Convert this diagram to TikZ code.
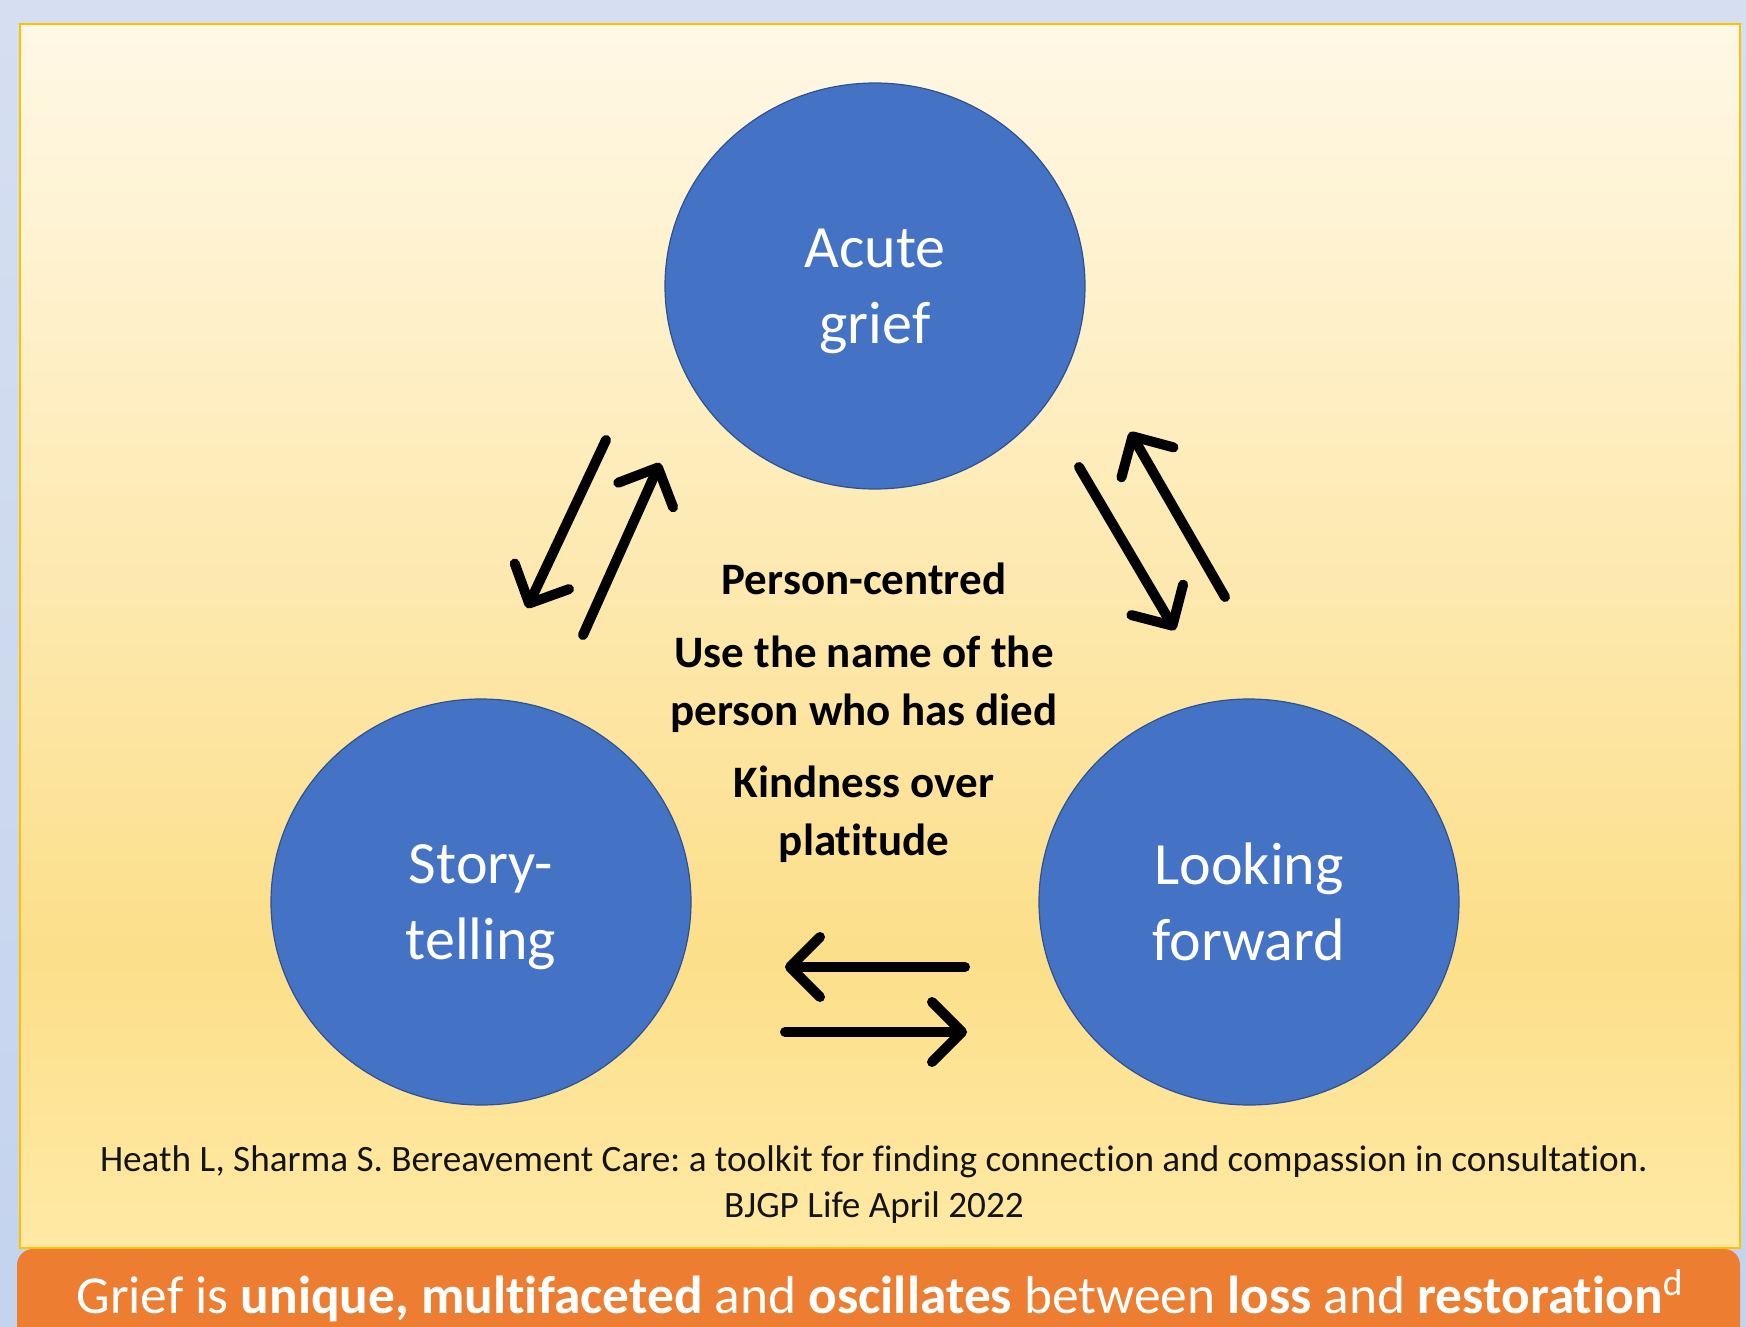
\documentclass[tikz,border=0pt]{standalone}
\usepackage{fontspec}
\setmainfont{Carlito}[Ligatures={NoCommon}]
\definecolor{gbBack}{HTML}{D6DFF1}
\definecolor{gbBackLow}{HTML}{C4D3EE}
\definecolor{gbPanelTop}{HTML}{FFF8E6}
\definecolor{gbPanelMid}{HTML}{FCDF8A}
\definecolor{gbPanelLow}{HTML}{FFE9A4}
\definecolor{gbGold}{HTML}{FFC000}
\definecolor{gbBlue}{HTML}{4472C4}
\definecolor{gbBlueEdge}{HTML}{2F528F}
\definecolor{gbOrange}{HTML}{ED7D31}
\definecolor{gbText}{HTML}{141414}
\usetikzlibrary{arrows.meta,shapes.geometric}
\pgfdeclareverticalshading{panelshade}{100bp}{color(0bp)=(gbPanelLow); color(25bp)=(gbPanelLow); color(37bp)=(gbPanelMid); color(75bp)=(gbPanelTop); color(100bp)=(gbPanelTop)}
\newcommand{\hl}[1]{\textbf{#1}}
\frenchspacing

\begin{document}
\begin{tikzpicture}[
  x=0.5pt, y=-0.5pt,
  stage/.style={ellipse, fill=gbBlue, draw=gbBlueEdge, line width=0.6pt,
    minimum width=210pt, minimum height=203pt, inner sep=0pt, text depth=0pt,
    text=white, align=center, font=\fontsize{30}{38}\selectfont},
  note/.style={align=center, text=black, font=\fontsize{22.5}{29}\selectfont\bfseries},
  cite/.style={align=center, text=gbText, font=\fontsize{18.6}{23}\selectfont},
  banner/.style={text=white, font=\fontsize{26.7}{30}\selectfont},
  swap/.style={line width=5pt, line cap=round,
    -{Straight Barb[round, length=15pt, width=30pt]}}
]
  \useasboundingbox (0,0) rectangle (1746,1327);
  \clip (0,0) rectangle (1746,1327);
  % backdrop and panel
  \fill[top color=gbBack, bottom color=gbBackLow] (0,0) rectangle (1746,1327);
  \shadedraw[shading=panelshade, draw=gbGold, line width=1.2pt] (20,24) rectangle (1740,1248);
  \fill[gbOrange, rounded corners=8pt] (17,1345) -- (17,1249) -- (1740,1249) -- (1740,1345) -- cycle;

  % the three stages
  \node[stage] (acute) at (875,286) {Acute\\grief};
  \node[stage] (story) at (481,902) {Story-\\telling};
  \node[stage] (look) at (1249,902) {Looking\\forward};

  % middle notes
  \node[note] (person) at (864,579) {Person-centred};
  \node[note] (name) at (864,684) {Use the name of the\\person who has died};
  \node[note] (kind) at (864,814) {Kindness over\\platitude};

  % oscillation arrows
  \coordinate (toStoryTail) at (606,440);
  \coordinate (toStoryTip) at (527,608);
  \coordinate (toAcuteTail) at (583,635);
  \coordinate (toAcuteTip) at (660,463);
  \coordinate (toLookTail) at (1079,467);
  \coordinate (toLookTip) at (1175,630);
  \coordinate (fromLookTail) at (1225,597);
  \coordinate (fromLookTip) at (1130,432);
  \coordinate (backTail) at (965,967);
  \coordinate (backTip) at (785,967);
  \coordinate (fwdTail) at (785,1032);
  \coordinate (fwdTip) at (967,1032);
  \draw[swap] (toStoryTail) -- (toStoryTip);
  \draw[swap] (toAcuteTail) -- (toAcuteTip);
  \draw[swap] (toLookTail) -- (toLookTip);
  \draw[swap] (fromLookTail) -- (fromLookTip);
  \draw[swap] (backTail) -- (backTip);
  \draw[swap] (fwdTail) -- (fwdTip);

  % source and message
  \node[cite] (ref) at (874,1185) {Heath L, Sharma S. Bereavement Care: a toolkit for finding connection and compassion in consultation.\\BJGP Life April 2022};
  \node[banner] (msg) at (880,1296) {Grief is \hl{unique, multifaceted} and \hl{oscillates} between \hl{loss} and \hl{restoration}\textsuperscript{d}};
\end{tikzpicture}
\end{document}
